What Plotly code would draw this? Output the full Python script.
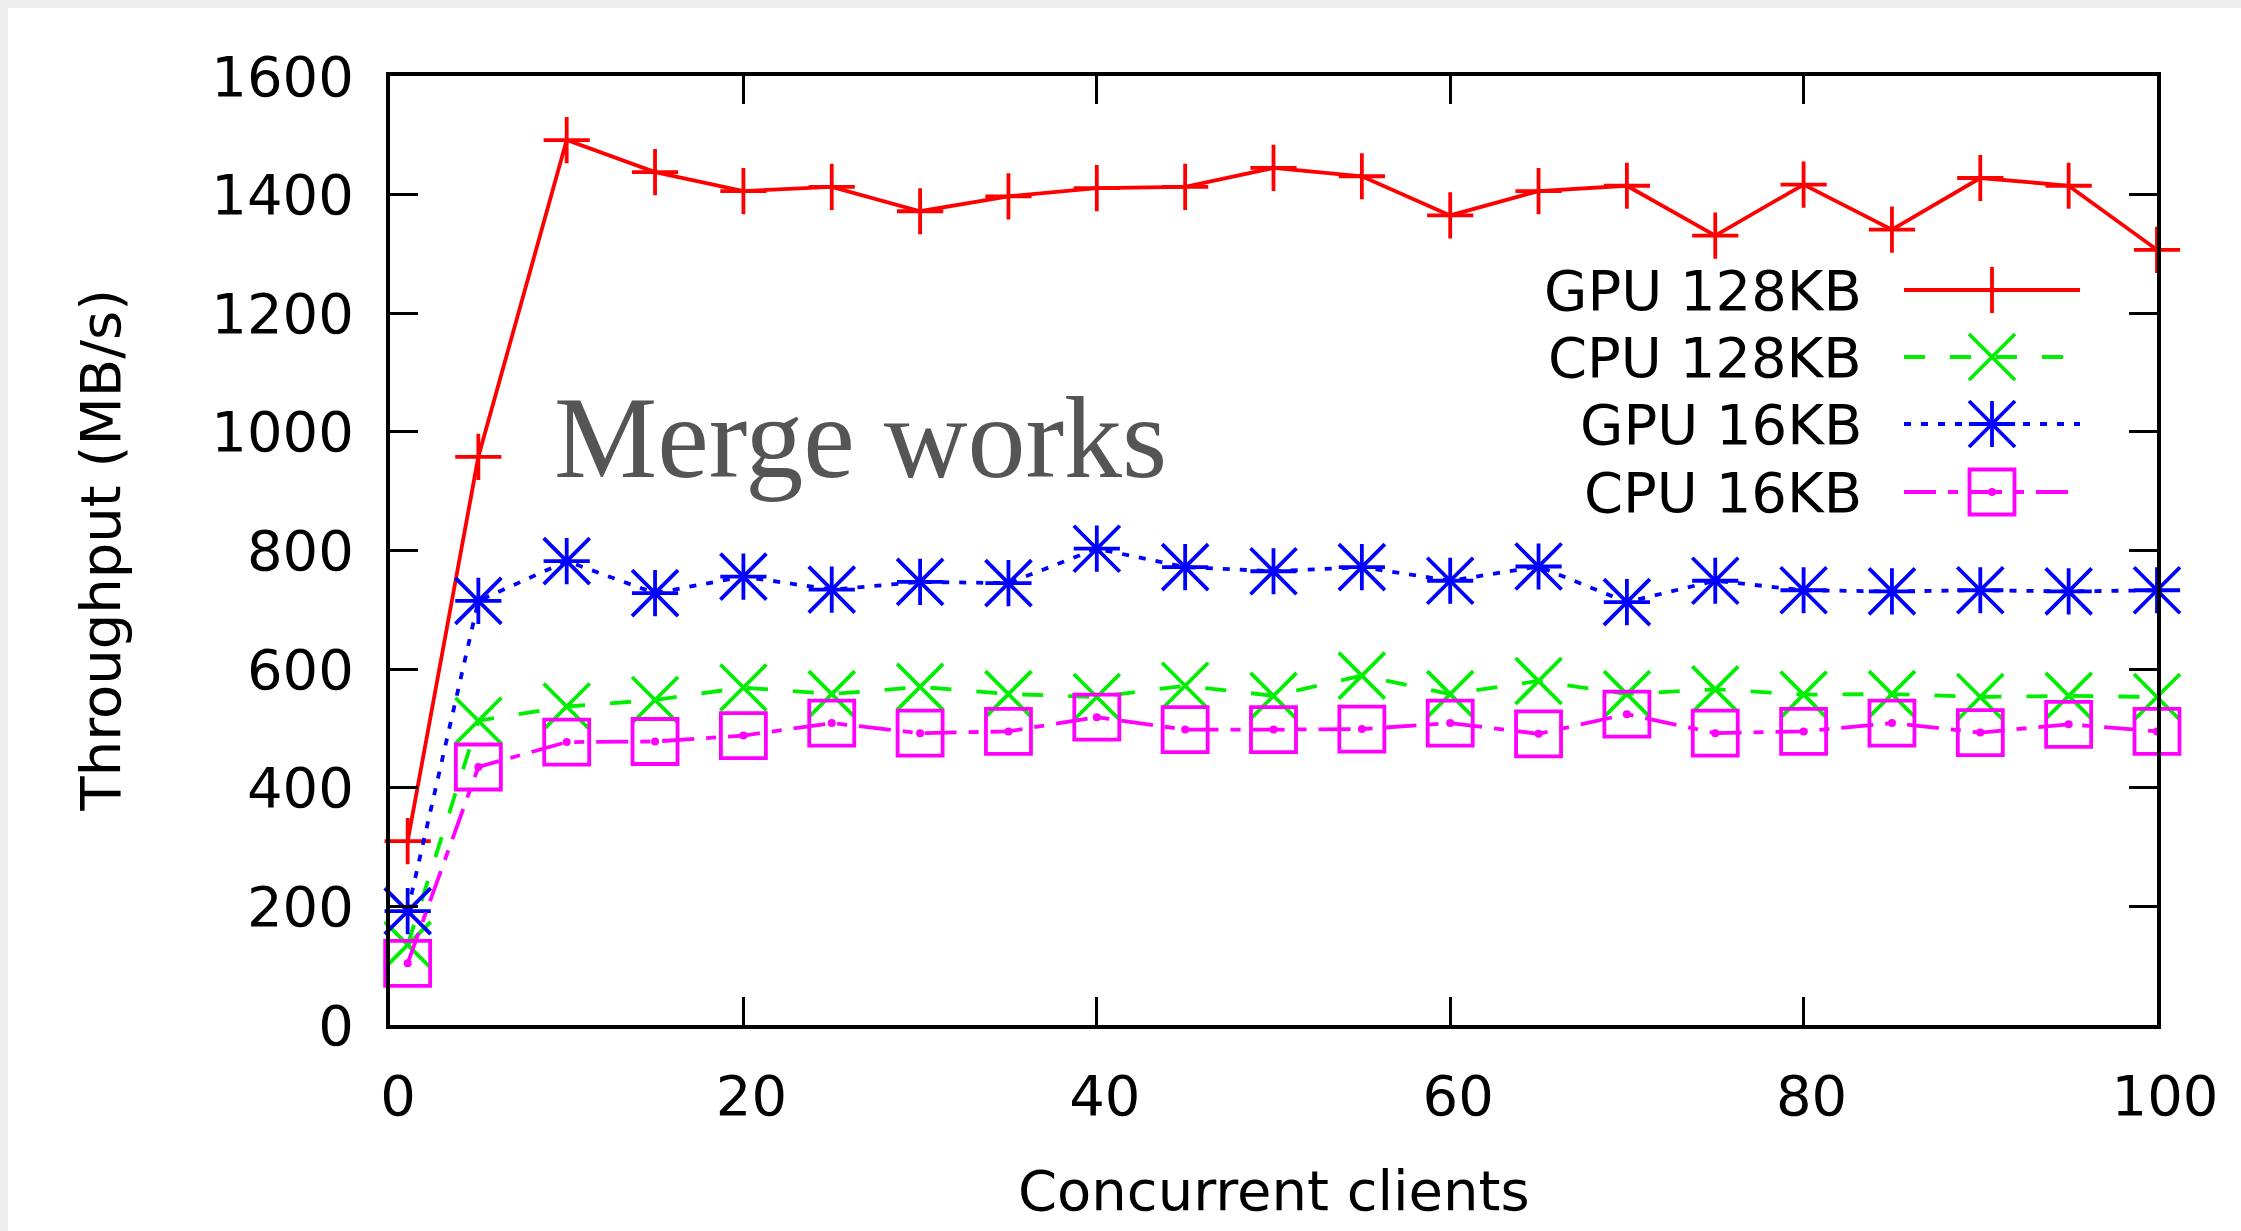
import plotly.graph_objects as go

# Throughput of the merge step vs. number of concurrent clients
clients = [1, 5, 10, 15, 20, 25, 30, 35, 40, 45, 50, 55, 60, 65, 70, 75, 80, 85, 90, 95, 100]
gpu_128kb = [310, 958, 1492, 1438, 1406, 1413, 1372, 1397, 1411, 1413, 1445,
             1431, 1365, 1406, 1415, 1331, 1417, 1341, 1428, 1415, 1307]
cpu_128kb = [135, 513, 537, 548, 569, 558, 570, 558, 553, 572, 555,
             589, 558, 580, 558, 566, 557, 558, 553, 555, 553]
gpu_16kb = [192, 715, 782, 728, 756, 734, 747, 745, 803, 772, 765,
            772, 749, 773, 713, 749, 733, 731, 733, 731, 733]
cpu_16kb = [104, 435, 477, 478, 488, 509, 492, 495, 519, 498, 498,
            499, 509, 491, 524, 492, 495, 509, 493, 507, 495]

series_names = ["GPU 128KB", "CPU 128KB", "GPU 16KB", "CPU 16KB"]
x_ticks = [0, 20, 40, 60, 80, 100]
y_ticks = [0, 200, 400, 600, 800, 1000, 1200, 1400, 1600]

FONT = "DejaVu Sans"
W, H = 2241, 1231
ML, MR, MT, MB = 390, 84, 76, 206
PW, PH = W - ML - MR, H - MT - MB
LW = 3.8

# gnuplot-like line/point styles
styles = [
    dict(color="#ff0000", dash="solid", symbols=[("cross-thin", 33)]),
    dict(color="#00ee00", dash="21px,25px", symbols=[("x-thin", 46)]),
    dict(color="#0000ff", dash="7px,10px", symbols=[("cross-thin", 33), ("x-thin", 46)]),
    dict(color="#ff00ff", dash="32px,12px,10px,12px", symbols=[("square-open", 45), ("circle", 8)]),
]
values = [gpu_128kb, cpu_128kb, gpu_16kb, cpu_16kb]

fig = go.Figure()


def marker(sym, size, color):
    return dict(symbol=sym, size=size, color=color,
                line=dict(color=color, width=LW if sym != "circle" else 0))


for name, ys, st in zip(series_names, values, styles):
    fig.add_trace(go.Scatter(
        x=clients, y=ys, mode="lines", name=name, showlegend=False,
        line=dict(color=st["color"], width=LW, dash=st["dash"]),
    ))
    for sym, size in st["symbols"]:
        fig.add_trace(go.Scatter(
            x=clients, y=ys, mode="markers", showlegend=False, cliponaxis=False,
            marker=marker(sym, size, st["color"]), hoverinfo="skip",
        ))

# Key drawn gnuplot-style: label on the left, sample on the right.
# Key axes are in pixels measured from the plot area's top-left corner.
key_rows = [214, 281, 348, 416]
key_x0, key_x1, key_text_right = 1514, 1690, 1474
key_mid = (key_x0 + key_x1) / 2
annotations = []
for name, st, ry in zip(series_names, styles, key_rows):
    fig.add_trace(go.Scatter(
        x=[key_x0, key_x1], y=[ry, ry], mode="lines", xaxis="x2", yaxis="y2",
        showlegend=False, hoverinfo="skip",
        line=dict(color=st["color"], width=LW, dash=st["dash"]),
    ))
    for sym, size in st["symbols"]:
        fig.add_trace(go.Scatter(
            x=[key_mid], y=[ry], mode="markers", xaxis="x2", yaxis="y2",
            showlegend=False, hoverinfo="skip", cliponaxis=False,
            marker=marker(sym, size, st["color"]),
        ))
    annotations.append(dict(
        x=key_text_right, y=ry, xref="x2", yref="y2", text=name, showarrow=False,
        xanchor="right", yanchor="middle", font=dict(family=FONT, size=56, color="black"),
    ))

annotations += [
    dict(x=26.6, y=990, xref="x", yref="y", text="Merge works", showarrow=False,
         xanchor="center", yanchor="middle",
         font=dict(family="Liberation Serif", size=116, color="#555555")),
    dict(x=-(ML - 100) / PW, y=0.5, xref="paper", yref="paper", text="Throughput (MB/s)",
         showarrow=False, textangle=-90, xanchor="center", yanchor="middle",
         font=dict(family=FONT, size=56, color="black")),
    dict(x=0.5, y=-(1190 - (MT + PH)) / PH, xref="paper", yref="paper",
         text="Concurrent clients", showarrow=False, xanchor="center", yanchor="middle",
         font=dict(family=FONT, size=56, color="black")),
]

axis_common = dict(
    showline=True, linecolor="black", linewidth=4, mirror="ticks",
    ticks="inside", ticklen=28, tickwidth=3, tickcolor="black",
    showgrid=False, zeroline=False,
    tickfont=dict(family=FONT, size=56, color="black"),
)

# thin light-grey strip along the top and left edges of the page
strip = "#eeeeee"
shapes = [
    dict(type="rect", xref="paper", yref="paper", layer="below", line_width=0, fillcolor=strip,
         x0=-ML / PW, x1=(W - ML) / PW, y0=1 + (MT - 8) / PH, y1=1 + MT / PH),
    dict(type="rect", xref="paper", yref="paper", layer="below", line_width=0, fillcolor=strip,
         x0=-ML / PW, x1=-(ML - 8) / PW, y0=-MB / PH, y1=1 + MT / PH),
]

fig.update_layout(
    width=W, height=H,
    margin=dict(l=ML, r=MR, t=MT, b=MB, autoexpand=False),
    paper_bgcolor="white", plot_bgcolor="white",
    xaxis=dict(range=[0, 100], tickvals=x_ticks, ticklabelstandoff=19, ticklabelshift=8,
               **axis_common),
    yaxis=dict(range=[0, 1600], tickvals=y_ticks, ticklabelstandoff=21, **axis_common),
    xaxis2=dict(range=[0, PW], overlaying="x", anchor="y2", visible=False),
    yaxis2=dict(range=[PH, 0], overlaying="y", anchor="x2", visible=False),
    annotations=annotations,
    shapes=shapes,
    showlegend=False,
)

fig.write_html("out.html")
